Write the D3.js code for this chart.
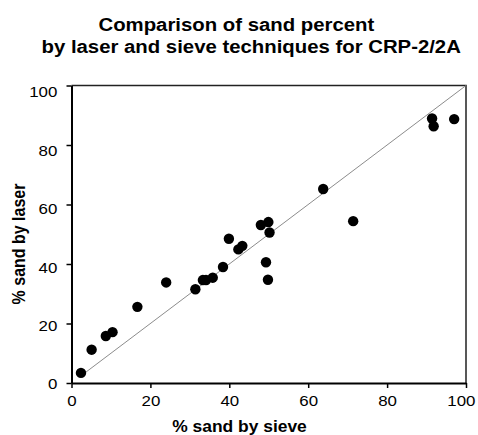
<!DOCTYPE html>
<html>
<head>
<meta charset="utf-8">
<script src="https://cdn.jsdelivr.net/npm/d3@7"></script>
<style>
  body { margin: 0; background: #fff; }
  text { font-family: "Liberation Sans", Arial, sans-serif; fill: #000; }
</style>
</head>
<body>
<div id="chart"></div>
<script>
// % sand by sieve (x) vs % sand by laser (y)
let sieve = [2.4, 5.1, 8.7, 10.4, 16.7, 24.0, 31.4, 33.3, 34.1, 35.8, 38.4, 39.9,
             42.3, 43.3, 48.0, 49.9, 50.2, 49.3, 49.8, 63.8, 71.4, 91.4, 91.8, 97.0];
let laser = [3.4, 11.2, 15.8, 17.1, 25.6, 33.8, 31.5, 34.6, 34.6, 35.4, 39.0, 48.5,
             44.9, 46.1, 53.1, 54.1, 50.6, 40.6, 34.7, 65.2, 54.4, 88.9, 86.3, 88.7];
// 1:1 reference line
let refX = [2.4, 100];
let refY = [2.4, 100];
let xTicks = [0, 20, 40, 60, 80, 100];
let yTicks = [0, 20, 40, 60, 80, 100];
let titleLines = ["Comparison of sand percent", "by laser and sieve techniques for CRP-2/2A"];
let xTitle = "% sand by sieve";
let yTitle = "% sand by laser";

let W = 478, H = 435;
// the original picture is stretched sideways a little, so text gets a small x scale
let stretch = 1.09;

let svg = d3.select("#chart").append("svg")
    .attr("width", W)
    .attr("height", H);

let x = d3.scaleLinear().domain([0, 100]).range([71.5, 466]);
let y = d3.scaleLinear().domain([0, 100]).range([383, 85.5]);
// y tick labels sit on a slightly different scale than the ticks in the original
let yLab = d3.scaleLinear().domain([0, 100]).range([383.5, 91.5]);

// frame: top and right
svg.append("path")
    .attr("d", `M${x(0)},${y(100)}H${x(100)}V${y(0)}`)
    .attr("fill", "none")
    .attr("stroke", "#222")
    .attr("stroke-width", 1.5);

// reference line
let line = d3.line()
    .x(function(d) { return x(d[0]); })
    .y(function(d) { return y(d[1]); });
svg.append("path")
    .datum(d3.zip(refX, refY))
    .attr("d", line)
    .attr("fill", "none")
    .attr("stroke", "#8c8c8c")
    .attr("stroke-width", 1);

// axes
let xAxis = svg.append("g")
    .attr("transform", `translate(0,${y(0)})`)
    .call(d3.axisBottom(x).tickValues(xTicks).tickSize(5).tickPadding(7).tickSizeOuter(0));
let yAxis = svg.append("g")
    .attr("transform", `translate(${x(0)},0)`)
    .call(d3.axisLeft(y).tickValues(yTicks).tickSize(5).tickSizeOuter(0));

[xAxis, yAxis].forEach(function(g) {
  g.select(".domain").attr("stroke", "#000").attr("stroke-width", 2);
  g.selectAll(".tick line").attr("stroke", "#000").attr("stroke-width", 1.5);
  g.selectAll(".tick text")
    .attr("font-size", "15.5px")
    .attr("font-family", "Liberation Sans, Arial, sans-serif");
});

xAxis.selectAll(".tick text")
    .attr("transform", `scale(${stretch},1)`)
    .each(function(d) {
      // keep the last label inside the picture
      let w = this.getComputedTextLength() * stretch;
      let right = x(d) + w / 2;
      if (right > W - 3) d3.select(this).attr("x", -(right - (W - 3)) / stretch);
    });

yAxis.selectAll(".tick text")
    .attr("x", -13)
    .attr("y", function(d) { return yLab(d) - y(d); })
    .attr("dy", "0.35em")
    .attr("transform", `scale(${stretch},1)`);

// points
svg.append("g")
  .selectAll("circle")
  .data(d3.zip(sieve, laser))
  .join("circle")
    .attr("cx", function(d) { return x(d[0]); })
    .attr("cy", function(d) { return y(d[1]); })
    .attr("r", 5.2)
    .attr("fill", "#000");

// title
svg.append("text")
    .attr("transform", `translate(98.5,31) scale(1.1,1)`)
    .attr("font-size", "18.5px")
    .attr("font-weight", "bold")
    .text(titleLines[0]);
svg.append("text")
    .attr("transform", `translate(41.5,53) scale(1.1,1)`)
    .attr("font-size", "18.5px")
    .attr("font-weight", "bold")
    .text(titleLines[1]);

// axis titles
svg.append("text")
    .attr("transform", `translate(239.5,432) scale(${stretch},1)`)
    .attr("text-anchor", "middle")
    .attr("font-size", "16px")
    .attr("font-weight", "bold")
    .text(xTitle);
svg.append("text")
    .attr("transform", `translate(24.5,244) rotate(-90) scale(1,${stretch})`)
    .attr("text-anchor", "middle")
    .attr("font-size", "16px")
    .attr("font-weight", "bold")
    .text(yTitle);
</script>
</body>
</html>
